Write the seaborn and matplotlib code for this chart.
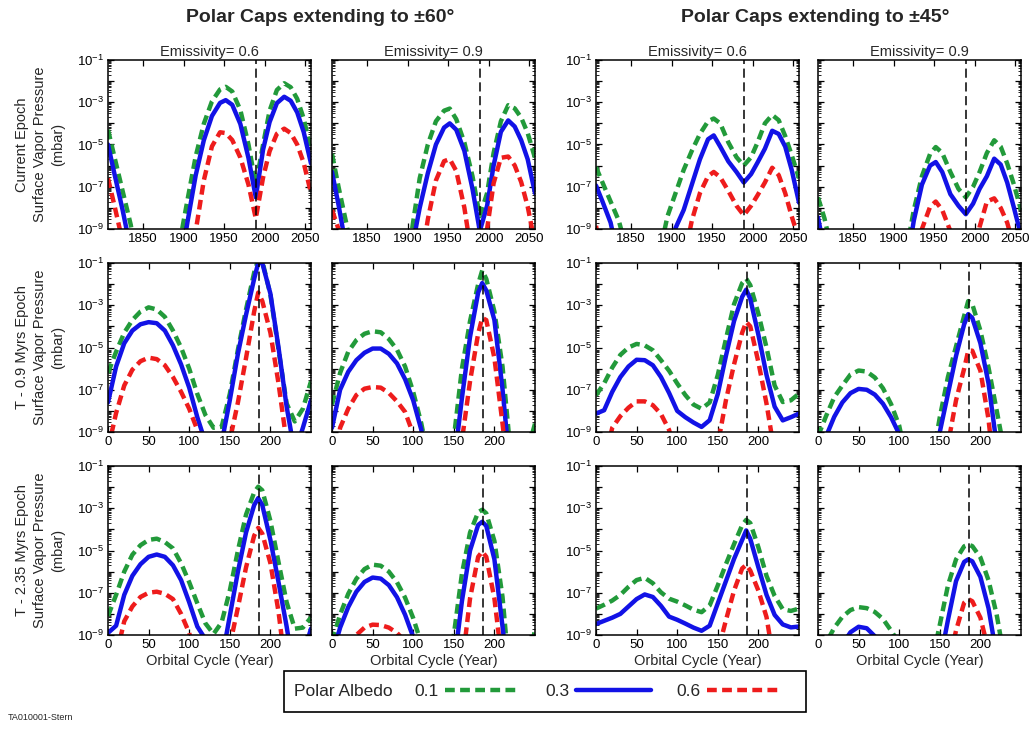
import numpy as np
import pandas as pd
import matplotlib
matplotlib.use("Agg")
import matplotlib.pyplot as plt
import seaborn as sns
from matplotlib.ticker import LogLocator, FixedLocator, FuncFormatter, NullFormatter
from matplotlib.lines import Line2D
from matplotlib.patches import Rectangle

# ---------------- data (log10 of surface vapor pressure, mbar; < -9 is off-scale) ----
years = [1807, 1815, 1825, 1835, 1845, 1855, 1865, 1875, 1885, 1895, 1905, 1915, 1925, 1935,
         1945, 1952, 1960, 1970, 1980, 1989, 1998, 2006, 2015, 2024, 2032, 2040, 2048, 2057]
orbit = [0, 10, 20, 30, 40, 50, 60, 70, 80, 90, 100, 110, 120, 130, 140, 150, 160, 170, 180,
         185, 190, 200, 210, 220, 230, 240, 250]

# Current epoch
cur_60_e06_a01 = [-4.3, -5.6, -7.2, -8.8, -11, -12, -12, -12, -12, -9.7, -7.6, -5.56, -4.02, -2.96,
                  -2.39, -2.27, -2.49, -3.37, -5.0, -6.9, -5.0, -3.4, -2.42, -2.1, -2.29, -2.84, -3.77, -5.26]
cur_60_e06_a03 = [-5.0, -6.4, -8.1, -10, -12, -12, -12, -12, -12, -11, -8.64, -6.46, -4.8, -3.65,
                  -3.03, -2.9, -3.12, -4.03, -5.64, -7.5, -5.24, -3.94, -3.04, -2.74, -2.93, -3.48, -4.41, -5.9]
cur_60_e06_a06 = [-6.6, -7.9, -9.6, -12, -12, -12, -12, -12, -12, -12, -12, -9.1, -6.7, -5.09,
                  -4.42, -4.46, -4.79, -5.62, -6.9, -8.5, -6.56, -5.32, -4.49, -4.25, -4.46, -5.0, -5.87, -7.3]

cur_60_e09_a01 = [-5.44, -7.0, -8.8, -11, -12, -12, -12, -12, -12, -11.3, -9.17, -6.6, -5.0, -3.9,
                  -3.4, -3.3, -3.8, -4.9, -6.5, -8.4, -7.3, -5.4, -3.9, -3.14, -3.29, -3.73, -4.46, -5.64]
cur_60_e09_a03 = [-6.3, -7.85, -10, -12, -12, -12, -12, -12, -12, -12, -10.0, -8.0, -6.36, -5.0,
                  -4.2, -4.0, -4.3, -5.3, -7.1, -9.1, -7.9, -6.0, -4.4, -3.86, -4.15, -4.8, -5.7, -7.3]
cur_60_e09_a06 = [-8.1, -9.0, -11, -12, -12, -12, -12, -12, -12, -12, -12, -11, -8.55, -6.7,
                  -5.79, -5.69, -6.25, -7.99, -10.5, -12, -9.0, -6.84, -5.63, -5.57, -5.99, -6.78, -7.94, -9.7]

cur_45_e06_a01 = [-6.07, -6.8, -7.7, -8.6, -10, -12, -12, -12, -10.2, -8.4, -7.3, -6.2, -5.3, -4.5,
                  -3.9, -3.77, -4.0, -4.9, -5.6, -6.0, -5.6, -4.9, -4.0, -3.6, -3.85, -4.6, -5.5, -6.6]
cur_45_e06_a03 = [-6.94, -7.7, -8.7, -10.5, -12, -12, -12, -12, -12, -11, -8.95, -8.1, -6.9, -5.7,
                  -4.75, -4.57, -5.1, -5.8, -6.3, -6.8, -6.4, -5.85, -5.2, -4.35, -4.5, -5.1, -6.2, -7.75]
cur_45_e06_a06 = [-8.85, -10.5, -12, -12, -12, -12, -12, -12, -12, -12, -12, -10.5, -8.6, -7.3,
                  -6.5, -6.3, -6.55, -7.2, -7.9, -8.35, -7.9, -7.4, -6.8, -6.1, -6.45, -7.3, -8.4, -9.5]

cur_45_e09_a01 = [-7.5, -8.5, -10.2, -12, -12, -12, -12, -12, -12, -12, -12, -10.2, -8.1, -6.5,
                  -5.45, -5.12, -5.4, -6.3, -7.1, -7.5, -7.0, -6.3, -5.4, -4.8, -5.1, -5.9, -6.86, -8.1]
cur_45_e09_a03 = [-8.45, -10, -12, -12, -12, -12, -12, -12, -12, -12, -12, -11, -8.6, -6.9,
                  -6.0, -5.83, -6.3, -7.35, -7.9, -8.3, -7.8, -7.1, -6.5, -5.67, -5.95, -6.8, -7.95, -9.3]
cur_45_e09_a06 = [-12, -12, -12, -12, -12, -12, -12, -12, -12, -12, -12, -12, -11, -9.0,
                  -7.95, -7.7, -8.1, -9.1, -11, -12, -10.5, -8.9, -7.7, -7.55, -8.0, -8.7, -9.8, -12]

# T - 0.9 Myrs epoch
t09_60_e06_a01 = [-6.2, -5.2, -4.3, -3.7, -3.3, -3.1, -3.2, -3.55, -4.2, -5.0, -6.0, -7.2, -8.2, -8.8,
                  -8.75, -7.2, -5.1, -3.2, -1.45, -0.85, -0.9, -2.5, -5.1, -7.65, -8.5, -7.9, -6.6]
t09_60_e06_a03 = [-7.6, -5.9, -4.8, -4.2, -3.9, -3.8, -3.85, -4.2, -4.9, -5.8, -6.9, -8.3, -9.5, -11,
                  -9.5, -7.5, -5.3, -3.45, -1.75, -1.0, -1.0, -2.45, -5.0, -7.8, -10, -8.8, -7.5]
t09_60_e06_a06 = [-9.8, -8.1, -6.8, -6.05, -5.65, -5.48, -5.55, -5.84, -6.4, -7.1, -7.9, -8.9, -11, -12,
                  -12, -9.4, -7.6, -5.5, -3.3, -2.4, -2.8, -4.3, -6.7, -9.5, -12, -12, -12]

t09_60_e09_a01 = [-7.7, -6.2, -5.2, -4.65, -4.35, -4.23, -4.28, -4.6, -5.1, -5.9, -7.1, -8.6, -10.5, -12,
                  -12, -9.3, -6.0, -3.75, -2.0, -1.35, -1.75, -3.3, -5.9, -10, -12, -10, -8.6]
t09_60_e09_a03 = [-8.8, -7.0, -6.15, -5.6, -5.25, -5.05, -5.05, -5.3, -5.75, -6.5, -7.5, -8.9, -11, -12,
                  -12, -10.6, -7.4, -4.5, -2.4, -1.95, -2.3, -3.7, -6.97, -11, -12, -12, -12]
t09_60_e09_a06 = [-11, -8.8, -7.9, -7.25, -6.95, -6.87, -6.9, -7.15, -7.55, -8.05, -9.1, -11, -12, -12,
                  -12, -12, -9.4, -6.6, -4.34, -3.6, -3.7, -5.5, -8.6, -12, -12, -12, -12]

t09_45_e06_a01 = [-7.26, -6.7, -5.95, -5.35, -5.0, -4.83, -4.9, -5.13, -5.6, -6.1, -6.7, -7.25, -7.7, -7.9,
                  -7.6, -6.3, -4.6, -2.95, -1.95, -1.74, -2.05, -3.4, -5.0, -6.8, -7.58, -7.5, -7.18]
t09_45_e06_a03 = [-8.13, -7.97, -7.1, -6.4, -5.9, -5.58, -5.6, -5.84, -6.4, -7.15, -8.0, -8.3, -8.55, -8.76,
                  -8.44, -7.2, -5.4, -3.75, -2.6, -2.26, -2.7, -4.4, -6.3, -7.8, -8.45, -8.3, -8.13]
t09_45_e06_a06 = [-12, -10.5, -8.8, -8.25, -7.85, -7.55, -7.55, -7.73, -8.15, -8.9, -10.5, -12, -12, -12,
                  -12, -9.6, -7.5, -5.8, -4.3, -3.79, -4.0, -5.7, -7.66, -10, -12, -12, -12]

t09_45_e09_a01 = [-9.2, -8.24, -7.35, -6.8, -6.28, -6.09, -6.14, -6.42, -6.93, -7.68, -8.7, -10.5, -12, -12,
                  -10.5, -8.3, -6.4, -4.95, -3.5, -2.8, -2.95, -4.2, -5.95, -7.97, -10, -12, -12]
t09_45_e09_a03 = [-12, -9.2, -8.28, -7.6, -7.16, -6.96, -7.0, -7.23, -7.66, -8.3, -9.1, -11, -12, -12,
                  -12, -9.0, -7.2, -5.4, -3.9, -3.42, -3.6, -4.8, -6.7, -9.6, -12, -12, -12]
t09_45_e09_a06 = [-12, -12, -12, -12, -12, -12, -12, -12, -12, -12, -12, -12, -12, -12,
                  -12, -12, -9.6, -7.5, -6.0, -5.15, -5.15, -6.1, -8.4, -12, -12, -12, -12]

# T - 2.35 Myrs epoch
t235_60_e06_a01 = [-8.1, -7.1, -6.0, -5.2, -4.75, -4.5, -4.44, -4.6, -4.9, -5.6, -6.5, -7.5, -8.45, -8.95,
                   -8.4, -6.9, -5.0, -3.3, -2.25, -1.98, -2.15, -3.6, -5.55, -7.45, -8.7, -8.65, -8.17]
t235_60_e06_a03 = [-8.9, -8.56, -7.1, -6.2, -5.65, -5.3, -5.19, -5.3, -5.7, -6.4, -7.45, -8.6, -9.2, -11,
                   -10.2, -8.1, -6.0, -4.15, -2.85, -2.52, -2.85, -4.5, -6.5, -8.6, -11, -10, -8.7]
t235_60_e06_a06 = [-12, -10, -8.35, -7.65, -7.2, -7.0, -6.95, -7.05, -7.3, -8.0, -8.9, -10.5, -12, -12,
                   -12, -9.5, -7.7, -5.8, -4.3, -3.93, -4.2, -5.6, -7.9, -11, -12, -12, -12]

t235_60_e09_a01 = [-9.3, -8.03, -7.05, -6.34, -5.88, -5.67, -5.72, -6.0, -6.5, -7.23, -8.2, -9.4, -11, -12,
                   -11.5, -9.0, -6.1, -4.15, -3.19, -3.07, -3.24, -4.55, -7.2, -11.5, -12, -11, -8.7]
t235_60_e09_a03 = [-10, -8.65, -7.68, -6.95, -6.49, -6.28, -6.33, -6.64, -7.21, -8.04, -9.1, -10.5, -12, -12,
                   -12, -10.5, -7.4, -5.0, -3.79, -3.64, -3.84, -5.42, -8.6, -12, -12, -12, -12]
t235_60_e09_a06 = [-12, -12, -9.6, -9.0, -8.65, -8.51, -8.53, -8.65, -8.9, -9.3, -10, -12, -12, -12,
                   -12, -12, -10.5, -7.27, -5.3, -5.05, -5.3, -7.27, -10.5, -12, -12, -12, -12]

t235_45_e06_a01 = [-7.75, -7.57, -7.37, -7.1, -6.72, -6.4, -6.29, -6.55, -6.98, -7.28, -7.42, -7.6, -7.8, -7.92,
                   -7.6, -6.65, -5.65, -4.7, -3.8, -3.55, -3.7, -4.85, -6.2, -7.15, -7.78, -7.86, -7.75]
t235_45_e06_a03 = [-8.48, -8.33, -8.18, -8.0, -7.65, -7.3, -7.08, -7.2, -7.62, -8.13, -8.28, -8.46, -8.65, -8.8,
                   -8.56, -7.5, -6.45, -5.4, -4.5, -4.05, -4.45, -5.8, -7.1, -8.05, -8.5, -8.64, -8.6]
t235_45_e06_a06 = [-12, -12, -12, -12, -12, -12, -12, -12, -12, -12, -12, -12, -12, -12,
                   -12, -9.8, -8.3, -6.9, -5.85, -5.68, -5.95, -6.9, -8.15, -10.5, -12, -12, -12]

t235_45_e09_a01 = [-10.5, -9.37, -8.66, -8.14, -7.82, -7.68, -7.73, -7.91, -8.24, -8.79, -9.4, -10.5, -12, -12,
                   -10.3, -8.52, -6.66, -5.42, -4.8, -4.72, -4.79, -5.33, -6.41, -8.03, -10.2, -12, -12]
t235_45_e09_a03 = [-12, -12, -10.5, -9.45, -8.87, -8.61, -8.68, -9.06, -9.8, -12, -12, -12, -12, -12,
                   -12, -10.3, -8.3, -6.45, -5.54, -5.42, -5.51, -6.25, -7.73, -10.0, -12, -12, -12]
t235_45_e09_a06 = [-12, -12, -12, -12, -12, -12, -12, -12, -12, -12, -12, -12, -12, -12,
                   -12, -12, -10.5, -8.79, -7.47, -7.3, -7.4, -8.18, -9.74, -12, -12, -12, -12]

albedos = ["0.1", "0.3", "0.6"]
col_titles = ["Emissivity= 0.6", "Emissivity= 0.9", "Emissivity= 0.6", "Emissivity= 0.9"]
row_labels = ["Current Epoch\nSurface Vapor Pressure\n(mbar)",
              "T - 0.9 Myrs Epoch\nSurface Vapor Pressure\n(mbar)",
              "T - 2.35 Myrs Epoch\nSurface Vapor Pressure\n(mbar)"]
year_ticks = [1850, 1900, 1950, 2000, 2050]
orbit_ticks = [0, 50, 100, 150, 200]
perihelion_year = 1989
perihelion_orbit = 186

panels = [
    [(cur_60_e06_a01, cur_60_e06_a03, cur_60_e06_a06), (cur_60_e09_a01, cur_60_e09_a03, cur_60_e09_a06),
     (cur_45_e06_a01, cur_45_e06_a03, cur_45_e06_a06), (cur_45_e09_a01, cur_45_e09_a03, cur_45_e09_a06)],
    [(t09_60_e06_a01, t09_60_e06_a03, t09_60_e06_a06), (t09_60_e09_a01, t09_60_e09_a03, t09_60_e09_a06),
     (t09_45_e06_a01, t09_45_e06_a03, t09_45_e06_a06), (t09_45_e09_a01, t09_45_e09_a03, t09_45_e09_a06)],
    [(t235_60_e06_a01, t235_60_e06_a03, t235_60_e06_a06), (t235_60_e09_a01, t235_60_e09_a03, t235_60_e09_a06),
     (t235_45_e06_a01, t235_45_e06_a03, t235_45_e06_a06), (t235_45_e09_a01, t235_45_e09_a03, t235_45_e09_a06)],
]

# ---------------- style ----------------
sns.set_theme(style="ticks")
plt.rcParams["font.family"] = ["Liberation Sans", "DejaVu Sans"]
plt.rcParams["mathtext.fontset"] = "custom"
plt.rcParams["mathtext.rm"] = "Liberation Sans"
plt.rcParams["mathtext.it"] = "Liberation Sans:italic"
plt.rcParams["mathtext.bf"] = "Liberation Sans:bold"
plt.rcParams["mathtext.default"] = "regular"

GREEN, BLUE, RED = "#229a3a", "#1212e6", "#ee1c1c"
palette = {"0.1": GREEN, "0.3": BLUE, "0.6": RED}
DASH = (2.2, 1.2)
dash_map = {"0.1": DASH, "0.3": "", "0.6": DASH}
LW = 3.2

W, H = 1035, 733
fig = plt.figure(figsize=(W / 100, H / 100), dpi=100)
fig.patch.set_facecolor("white")

cols_left = [108, 332, 596, 818]
rows_top = [60, 263, 466]
aw, ah = 203, 169


def log_fmt(v, pos):
    e = int(round(np.log10(v)))
    return f"$10^{{{e}}}$" if e % 2 else ""


for r in range(3):
    for c in range(4):
        l, t = cols_left[c], rows_top[r]
        ax = fig.add_axes([l / W, 1 - (t + ah) / H, aw / W, ah / H])
        xs = years if r == 0 else orbit
        g, b, rr = panels[r][c]
        n = len(xs)
        df = pd.DataFrame({
            "x": list(xs) * 3,
            "p": 10.0 ** np.array(g + b + rr, dtype=float),
            "albedo": ["0.1"] * n + ["0.3"] * n + ["0.6"] * n,
        })
        ax.set_yscale("log")
        sns.lineplot(data=df, x="x", y="p", hue="albedo", style="albedo", hue_order=albedos,
                     style_order=albedos, palette=palette, dashes=dash_map, linewidth=LW,
                     estimator=None, sort=False, legend=False, ax=ax)
        ax.axvline(perihelion_year if r == 0 else perihelion_orbit, color="black", lw=1.1,
                   dashes=(6, 3), zorder=5)
        ax.set_ylim(1e-9, 1e-1)
        if r == 0:
            ax.set_xlim(1807, 2057)
            ax.xaxis.set_major_locator(FixedLocator(year_ticks))
        else:
            ax.set_xlim(0, 250)
            ax.xaxis.set_major_locator(FixedLocator(orbit_ticks))
        ax.yaxis.set_major_locator(LogLocator(base=10, numticks=20))
        ax.yaxis.set_minor_locator(LogLocator(base=10, subs=np.arange(2, 10), numticks=20))
        ax.yaxis.set_major_formatter(FuncFormatter(log_fmt))
        ax.yaxis.set_minor_formatter(NullFormatter())
        ax.tick_params(which="both", direction="in", top=True, right=True, labelsize=9.5,
                       colors="black", pad=3)
        ax.tick_params(which="major", length=4, width=0.9)
        ax.tick_params(which="minor", length=2, width=0.6)
        if c in (1, 3):
            ax.tick_params(labelleft=False)
        for s in ax.spines.values():
            s.set_linewidth(1.1)
            s.set_color("black")
        ax.set_xlabel("")
        ax.set_ylabel("")
        if r == 0:
            ax.set_title(col_titles[c], fontsize=10.5, pad=3)
        if r == 2:
            ax.set_xlabel("Orbital Cycle (Year)", fontsize=10.5, labelpad=2)

# row labels
for r in range(3):
    yc = rows_top[r] + ah / 2
    fig.text(40 / W, 1 - yc / H, row_labels[r], rotation=90, ha="center", va="center",
             fontsize=10.5, linespacing=1.4, multialignment="center")

# group titles
fig.text(320 / W, 1 - 18 / H, "Polar Caps extending to ±60°", ha="center", va="center",
         fontsize=14, fontweight="bold")
fig.text(815 / W, 1 - 18 / H, "Polar Caps extending to ±45°", ha="center", va="center",
         fontsize=14, fontweight="bold")

# legend
handles = [Line2D([], [], color=GREEN, lw=LW, dashes=DASH),
           Line2D([], [], color=BLUE, lw=LW),
           Line2D([], [], color=RED, lw=LW, dashes=DASH)]
fig.legend(handles, albedos, loc="center", bbox_to_anchor=(598 / W, 1 - 691 / H), ncol=3,
           frameon=False, markerfirst=False, fontsize=12.5, handlelength=4.3,
           handletextpad=0.4, columnspacing=1.45)
fig.text(294 / W, 1 - 691 / H, "Polar Albedo", fontsize=12.5, ha="left", va="center")
fig.add_artist(Rectangle((284 / W, 1 - 712 / H), (806 - 284) / W, 41 / H,
                         transform=fig.transFigure, fill=False, lw=1.2, ec="black"))

fig.text(8 / W, 1 - 718 / H, "TA010001-Stern", fontsize=6.5, ha="left", va="center")

fig.savefig("out.png", dpi=100, facecolor="white")
